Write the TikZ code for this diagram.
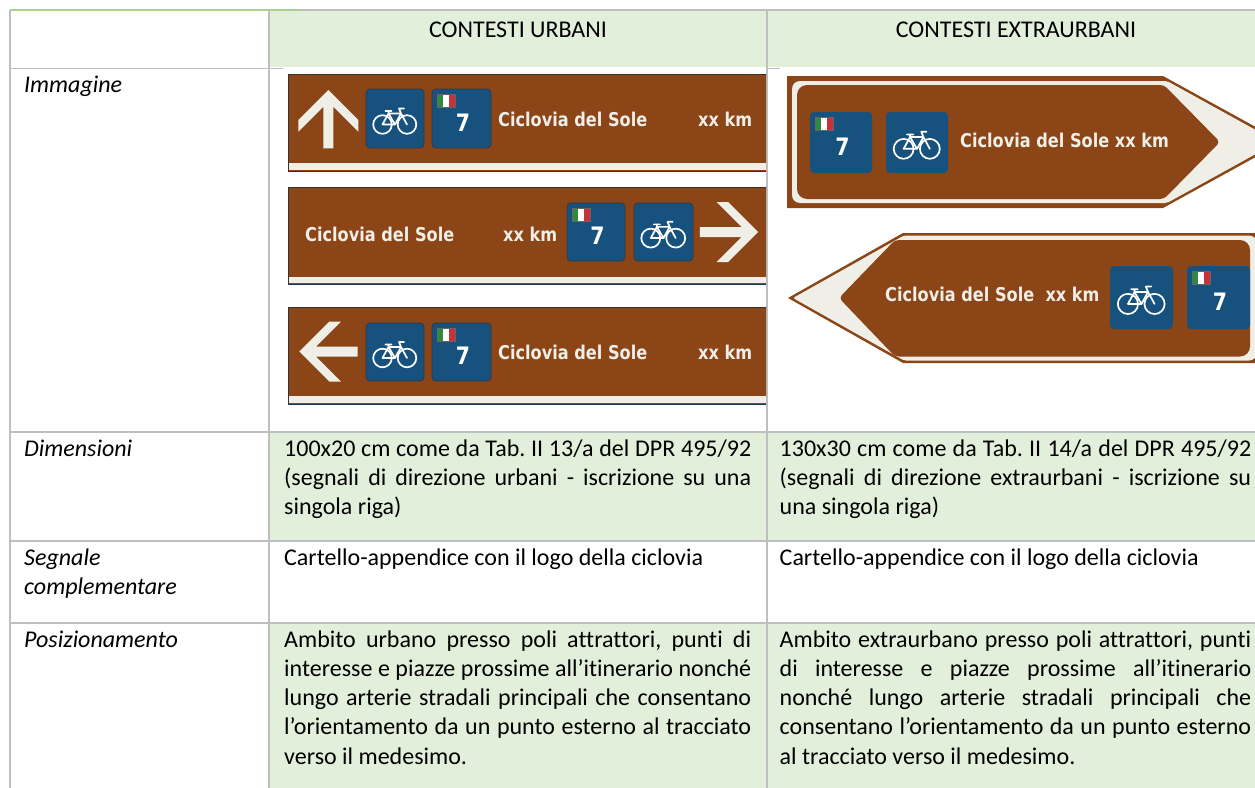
\documentclass[tikz,border=0pt]{standalone}
\usepackage{fontspec}
\setmainfont{Carlito}[Ligatures={NoCommon}]
\newfontfamily\signfont{DejaVu Sans}[FakeStretch=0.85]
\frenchspacing
\definecolor{gridc}{HTML}{BFBFBF}
\definecolor{cellg}{HTML}{E2EFDA}
\definecolor{topg}{HTML}{A9D18E}
\definecolor{brn}{HTML}{8B4517}
\definecolor{crm}{HTML}{EFEEE7}
\definecolor{blu}{HTML}{17527F}
\definecolor{bluedge}{HTML}{2B3A48}
\definecolor{signedge}{HTML}{333333}
\definecolor{itgreen}{HTML}{2E8B3E}
\definecolor{itred}{HTML}{C8313A}
\tikzset{
  tabtxt/.style={anchor=base west, inner sep=0pt, font=\fontsize{24}{29.3}\selectfont},
  headtxt/.style={anchor=base, inner sep=0pt, font=\fontsize{24}{29.3}\selectfont},
  lefttxt/.style={anchor=base west, inner sep=0pt, font=\fontsize{24}{29.3}\selectfont\itshape},
  signtxt/.style={anchor=base west, inner sep=0pt, text=crm, font=\signfont\bfseries\fontsize{19}{19}\selectfont},
  sevenlbl/.style={inner sep=0pt, text=white, font=\signfont\bfseries\fontsize{24}{24}\selectfont},
  gridline/.style={draw=gridc, line width=1.4pt},
}
\newcommand\BikeIcon{%
  \draw[white, line width=1.7pt] (-12.5,5) circle[radius=9.3] (12,5) circle[radius=9.3];
  \draw[white, line width=1.7pt, line join=round, line cap=round]
    (-12.5,5) -- (-6.5,-6) -- (6,-6) -- (12,5)
    (-12.5,5) -- (0,5) -- (-6.5,-6)
    (0,5) -- (6,-6)
    (6,-6) -- (4,-11) -- (9,-11)
    (-9.5,-8.5) -- (-3.5,-8.5)
    (-6.5,-6) -- (-6.5,-8.5);
}
\newcommand\BikeBox[5]{%
  \filldraw[fill=blu, draw=#5, line width=0.8pt, rounded corners=4pt] (#1,#2) rectangle ++(#3,#4);
  \begin{scope}[shift={({#1+#3/2},{#2+#4/2+1})}, scale=#3/58]\BikeIcon\end{scope}
}
\newcommand\SevenBox[6]{%
  \filldraw[fill=blu, draw=#5, line width=0.8pt, rounded corners=4pt] (#1,#2) rectangle ++(#3,#4);
  \fill[itgreen] ({#1+5},{#2+5}) rectangle ++(6,13);
  \fill[white] ({#1+11},{#2+5}) rectangle ++(6,13);
  \fill[itred] ({#1+17},{#2+5}) rectangle ++(6,13);
  \draw[black!60, line width=0.4pt] ({#1+5},{#2+5}) rectangle ++(18,13);
  \node[sevenlbl] (#6) at ({#1+#3/2+1.5},{#2+#4/2+4}) {7};
}
\newcommand\CrArrow[3]{%
  \fill[crm, shift={(#1,#2)}, rotate=#3] (0,-29.2) -- (30,0.8) -- (30,12.5) -- (5,-12.5)
    -- (5,29.1) -- (-5,29.1) -- (-5,-12.5) -- (-30,12.5) -- (-30,0.8) -- cycle;
}
\begin{document}
\begin{tikzpicture}[x=1pt,y=-1pt]
\useasboundingbox (0,0) rectangle (1255,787);
\begin{scope}
\clip (0,0) rectangle (1255,787);
\fill[white] (0,0) rectangle (1255,787);
% ---- cell fills
\fill[cellg] (269,10) rectangle (1270,67);
\fill[cellg] (269,432) rectangle (1270,541);
\fill[cellg] (269,623) rectangle (1270,800);
% ---- grid
\draw[gridline] (269,10) -- (1270,10);
\draw[draw=topg, line width=1.6pt] (10,10) -- (300,10);
\draw[gridline] (10,68.5) -- (283,68.5);
\draw[gridline] (767,68.5) -- (780,68.5);
\draw[gridline] (10,432) -- (1270,432);
\draw[gridline] (10,541) -- (1270,541);
\draw[gridline] (10,623) -- (1270,623);
\draw[gridline] (10,10) -- (10,800);
\draw[gridline] (269,10) -- (269,800);
\draw[gridline] (767,10) -- (767,800);
% ---- header
\node[headtxt] (h1) at (518,37) {CONTESTI URBANI};
\node[headtxt] (h2) at (1016,37) {CONTESTI EXTRAURBANI};
% ---- left column
\node[lefttxt] (l1) at (24,92) {Immagine};
\node[lefttxt] (l2) at (24,456) {Dimensioni};
\node[lefttxt] (l3) at (24,565) {Segnale};
\node[lefttxt] (l3b) at (24,594.3) {complementare};
\node[lefttxt] (l4) at (24,647) {Posizionamento};
% ---- Dimensioni
\node[tabtxt] (d2a) at (284,456) {\makebox[467pt][s]{100x20 cm come da Tab. II 13/a del DPR 495/92}};
\node[tabtxt] (d2b) at (284,485.3) {\makebox[467pt][s]{(segnali di direzione urbani - iscrizione su una}};
\node[tabtxt] (d2c) at (284,514.6) {singola riga)};
\node[tabtxt] (d3a) at (779.5,456) {\makebox[471.5pt][s]{130x30 cm come da Tab. II 14/a del DPR 495/92}};
\node[tabtxt] (d3b) at (779.5,485.3) {\makebox[471.5pt][s]{(segnali di direzione extraurbani - iscrizione su}};
\node[tabtxt] (d3c) at (779.5,514.6) {una singola riga)};
% ---- Segnale complementare
\node[tabtxt] (s2) at (284,565) {Cartello-appendice con il logo della ciclovia};
\node[tabtxt] (s3) at (779.5,565) {Cartello-appendice con il logo della ciclovia};
% ---- Posizionamento
\node[tabtxt] (p2a) at (284,647) {\makebox[467pt][s]{Ambito urbano presso poli attrattori, punti di}};
\node[tabtxt] (p2b) at (284,676.3) {\makebox[467pt][s]{interesse e piazze prossime all’itinerario nonché}};
\node[tabtxt] (p2c) at (284,705.6) {\makebox[467pt][s]{lungo arterie stradali principali che consentano}};
\node[tabtxt] (p2d) at (284,734.9) {\makebox[467pt][s]{l’orientamento da un punto esterno al tracciato}};
\node[tabtxt] (p2e) at (284,764.2) {verso il medesimo.};
\node[tabtxt] (p3a) at (779.5,647) {\makebox[471.5pt][s]{Ambito extraurbano presso poli attrattori, punti}};
\node[tabtxt] (p3b) at (779.5,676.3) {\makebox[471.5pt][s]{di interesse e piazze prossime all’itinerario}};
\node[tabtxt] (p3c) at (779.5,705.6) {\makebox[471.5pt][s]{nonché lungo arterie stradali principali che}};
\node[tabtxt] (p3d) at (779.5,734.9) {\makebox[471.5pt][s]{consentano l’orientamento da un punto esterno}};
\node[tabtxt] (p3e) at (779.5,764.2) {al tracciato verso il medesimo.};
\end{scope}
% ================= urban signs
\begin{scope}
\clip (283,69.5) rectangle (766,431);
% sign 1
\fill[brn] (288,74) rectangle (775,171);
\fill[crm] (288,163) rectangle (775,170);
\draw[signedge, line width=0.9pt] (288,74) rectangle (775,171);
\CrArrow{328.3}{119.2}{0}
\BikeBox{366}{89}{58}{59}{bluedge}
\SevenBox{432}{89}{59}{59}{bluedge}{u1seven}
\node[signtxt] (u1t) at (498,126) {Ciclovia del Sole};
\node[signtxt] (u1k) at (698,126) {xx km};
% sign 2
\fill[brn] (288,187) rectangle (775,284);
\fill[crm] (288,277) rectangle (775,283);
\draw[signedge, line width=0.9pt] (288,187) rectangle (775,284);
\node[signtxt] (u2t) at (305,241) {Ciclovia del Sole};
\node[signtxt] (u2k) at (503,241) {xx km};
\SevenBox{567}{203}{58}{58}{bluedge}{u2seven}
\BikeBox{634}{203}{59}{58}{bluedge}
\CrArrow{729}{232}{-90}
% sign 3
\fill[brn] (288,307) rectangle (775,404);
\fill[crm] (288,396) rectangle (775,403);
\draw[signedge, line width=0.9pt] (288,307) rectangle (775,404);
\CrArrow{328.5}{351.5}{90}
\BikeBox{366}{323}{58}{58}{bluedge}
\SevenBox{432}{323}{59}{58}{bluedge}{u3seven}
\node[signtxt] (u3t) at (498,359) {Ciclovia del Sole};
\node[signtxt] (u3k) at (698,359) {xx km};
\end{scope}
% ================= extra-urban signs
\begin{scope}
\clip (780,69.5) rectangle (1255,431);
% sign A (pointing right)
\fill[brn] (787,76) -- (1163,76) -- (1283,142) -- (1163,208) -- (787,208) -- cycle;
\fill[crm] (1000,81) [rounded corners=8pt] -- (792,81) -- (792,203) -- (1000,203) [rounded corners=2pt] -- (1167,203) -- (1277.5,142) -- (1167,81) -- cycle;
\fill[brn] (1000,85) [rounded corners=10pt] -- (797,85) -- (797,199) -- (1000,199) [rounded corners=4pt] -- (1164,199) -- (1220,142) -- (1164,85) -- cycle;
\SevenBox{810}{112}{62}{61}{none}{eAseven}
\BikeBox{886}{112}{62}{61}{none}
\node[signtxt] (eAt) at (960,147) {Ciclovia del Sole xx km};
% sign B (pointing left)
\fill[brn] (788,298) -- (903,233) -- (1262,233) -- (1262,363) -- (903,363) -- cycle;
\fill[crm] (1000,235.5) [rounded corners=8pt] -- (1257,235.5) -- (1257,360.5) -- (1000,360.5) [rounded corners=2pt] -- (904,360.5) -- (793,298) -- (904,235.5) -- cycle;
\fill[brn] (1000,240) [rounded corners=10pt] -- (1250,240) -- (1250,356.5) -- (1000,356.5) [rounded corners=4pt] -- (895,356.5) -- (839,298) -- (895,240) -- cycle;
\BikeBox{1110}{266}{63}{63}{none}
\SevenBox{1187}{266}{63}{63}{none}{eBseven}
\node[signtxt] (eBt) at (885,301) {Ciclovia del Sole\ \ xx km};
\end{scope}
\end{tikzpicture}
\end{document}
